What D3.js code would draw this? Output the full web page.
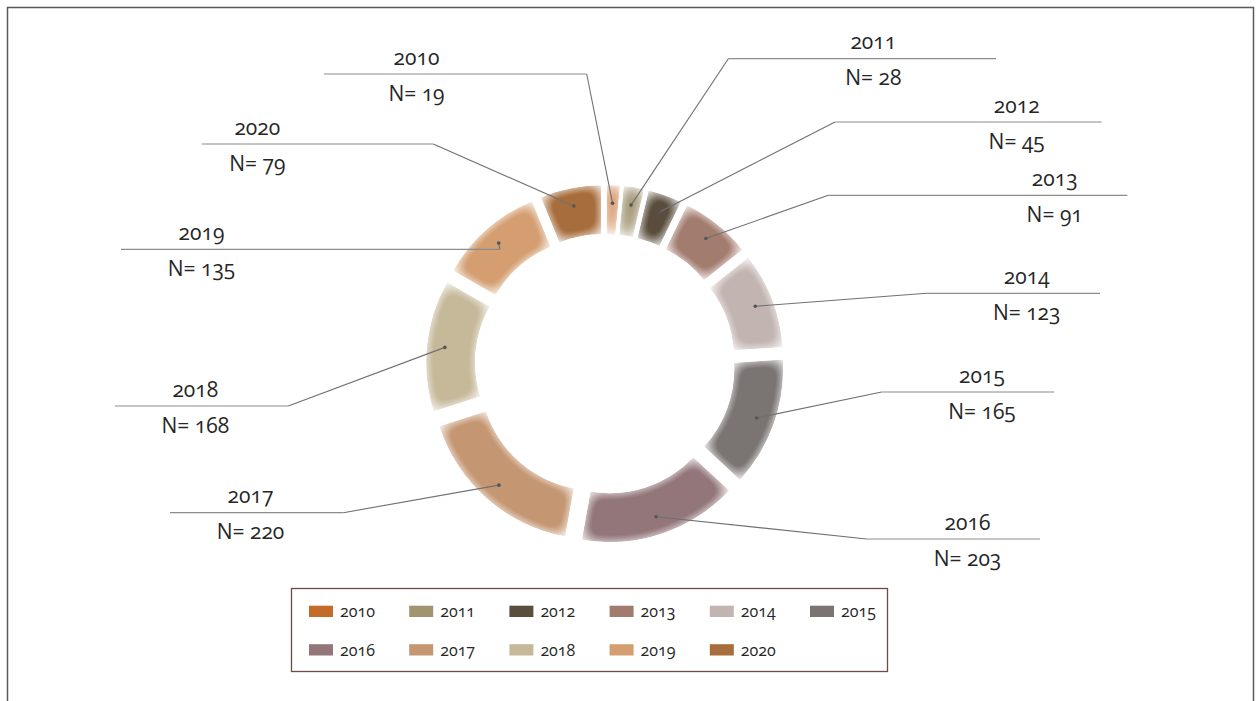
<!DOCTYPE html>
<html>
<head>
<meta charset="utf-8">
<script src="https://cdn.jsdelivr.net/npm/d3@7"></script>
<style>
  html, body { margin: 0; padding: 0; background: #ffffff; }
  svg { display: block; font-family: "Open Sans", "Noto Sans", sans-serif; font-variant-numeric: oldstyle-nums; font-feature-settings: "onum" 1; }
</style>
</head>
<body>
<svg id="chart" width="1260" height="701"></svg>
<script>
// Yearly counts shown as an exploded doughnut
const years  = ["2010", "2011", "2012", "2013", "2014", "2015", "2016", "2017", "2018", "2019", "2020"];
const counts = [19, 28, 45, 91, 123, 165, 203, 220, 168, 135, 79];
const colors = ["#C46A2A", "#A09471", "#5A4E3C", "#A27B6E", "#C2B5B1", "#7A7472",
                "#93767A", "#C59672", "#C6B99A", "#D49E70", "#A86D3C"];

// Callout placement for each label: text centre x, rule y, rule ends (inner end joins the leader)
const labelPlacement = [
  { x: 416.5,  y: 74,    inner: 586.7, outer: 324   },
  { x: 873.3,  y: 58.7,  inner: 728.3, outer: 996   },
  { x: 1016.7, y: 122,   inner: 835,   outer: 1101.7 },
  { x: 1054.7, y: 195.3, inner: 828.3, outer: 1127.3 },
  { x: 1026.7, y: 293.3, inner: 926.7, outer: 1100  },
  { x: 982,    y: 392,   inner: 881.7, outer: 1054  },
  { x: 967.5,  y: 539,   inner: 866.7, outer: 1040  },
  { x: 250.5,  y: 512.7, inner: 343.3, outer: 170   },
  { x: 195.3,  y: 406,   inner: 288.3, outer: 115   },
  { x: 201.5,  y: 249.3, inner: 500,   outer: 121   },
  { x: 257.3,  y: 144,   inner: 433.3, outer: 201.7 }
];

const data = years.map((y, i) => ({ year: y, count: counts[i], color: colors[i], place: labelPlacement[i] }));

const svg = d3.select("#chart");

// soft-edged fill for the ring segments
const defs = svg.append("defs");
const f = defs.append("filter").attr("id", "soft")
  .attr("x", "-20%").attr("y", "-20%").attr("width", "140%").attr("height", "140%");
f.append("feGaussianBlur").attr("in", "SourceAlpha").attr("stdDeviation", 8).attr("result", "blur");
f.append("feComponentTransfer").attr("in", "blur").attr("result", "mask")
  .append("feFuncA").attr("type", "linear").attr("slope", 1.5).attr("intercept", -0.22);
f.append("feComposite").attr("in", "SourceGraphic").attr("in2", "mask").attr("operator", "in").attr("result", "faded");
f.append("feComposite").attr("in", "faded").attr("in2", "SourceAlpha").attr("operator", "in");

// outer frame
svg.append("rect")
  .attr("x", 7.5).attr("y", 7.5).attr("width", 1246).attr("height", 710)
  .attr("fill", "none").attr("stroke", "#5a5a5a").attr("stroke-width", 1.5);

const cx = 605, cy = 364;
const innerR = 115, outerR = 164, explode = 15, dotR = 146;

const pie = d3.pie().sort(null).value(d => d.count).startAngle(0).endAngle(2 * Math.PI);
const arc = d3.arc().innerRadius(innerR).outerRadius(outerR).padRadius(100).padAngle(0.02);
const arcs = pie(data);

const ring = svg.append("g").attr("transform", `translate(${cx},${cy})`);

function shift(a) {
  const m = (a.startAngle + a.endAngle) / 2;
  return [explode * Math.sin(m), -explode * Math.cos(m)];
}
function dotPos(a) {
  const m = (a.startAngle + a.endAngle) / 2;
  const s = shift(a);
  return [cx + s[0] + dotR * Math.sin(m), cy + s[1] - dotR * Math.cos(m)];
}

ring.selectAll("path.slice")
  .data(arcs)
  .join("path")
  .attr("class", "slice")
  .attr("transform", a => `translate(${shift(a)[0]},${shift(a)[1]})`)
  .attr("d", arc)
  .attr("fill", a => a.data.color)
  .attr("filter", "url(#soft)");

// callouts
const callouts = svg.append("g");
arcs.forEach(a => {
  const p = a.data.place;
  const d = dotPos(a);
  callouts.append("line")
    .attr("x1", Math.min(p.inner, p.outer)).attr("x2", Math.max(p.inner, p.outer))
    .attr("y1", p.y).attr("y2", p.y)
    .attr("stroke", "#8c8c8c").attr("stroke-width", 1.2);
  callouts.append("line")
    .attr("x1", p.inner).attr("y1", p.y).attr("x2", d[0]).attr("y2", d[1])
    .attr("stroke", "#707070").attr("stroke-width", 1.1);
  callouts.append("circle")
    .attr("cx", d[0]).attr("cy", d[1]).attr("r", 1.8).attr("fill", "#555555");
  callouts.append("text")
    .attr("x", p.x).attr("y", p.y - 9.5)
    .attr("text-anchor", "middle").attr("font-size", 21).attr("fill", "#262626")
    .text(a.data.year);
  callouts.append("text")
    .attr("x", p.x).attr("y", p.y + 26.5)
    .attr("text-anchor", "middle").attr("font-size", 21).attr("fill", "#262626")
    .text("N= " + a.data.count);
});

// legend
const legend = svg.append("g");
legend.append("rect")
  .attr("x", 291.5).attr("y", 588.5).attr("width", 596).attr("height", 83)
  .attr("fill", "#ffffff").attr("stroke", "#6e4b44").attr("stroke-width", 1.3);
const items = legend.selectAll("g.item")
  .data(data)
  .join("g")
  .attr("class", "item")
  .attr("transform", (d, i) => `translate(${309 + (i % 6) * 100.2},${605.7 + Math.floor(i / 6) * 38.5})`);
items.append("rect").attr("width", 24).attr("height", 11.3).attr("fill", d => d.color);
items.append("text").attr("x", 31).attr("y", 11.3)
  .attr("font-size", 16).attr("fill", "#262626").text(d => d.year);
</script>
</body>
</html>
